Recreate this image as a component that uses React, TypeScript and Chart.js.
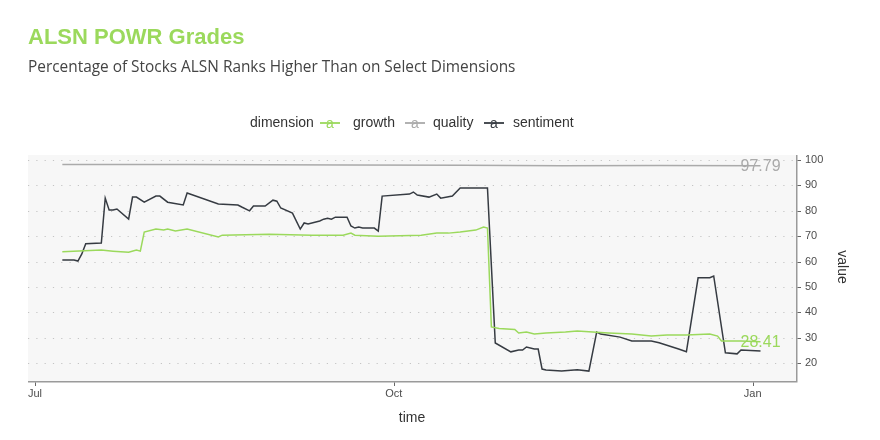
import React, { useEffect, useRef } from "react";
import { Chart, registerables } from "chart.js";

Chart.register(...registerables);

// ---------- data ----------
const xTickDates = ["2023-07-01", "2023-10-01", "2024-01-01"];
const xTickLabels = ["Jul", "Oct", "Jan"];
const yTickValues = [20, 30, 40, 50, 60, 70, 80, 90, 100];

const seriesNames = ["growth", "quality", "sentiment"];
const seriesColors = ["#9bd95c", "#aaaaaa", "#363b42"];

const growthDates = [
  "2023-07-08", "2023-07-18", "2023-07-21", "2023-07-25", "2023-07-27", "2023-07-28",
  "2023-07-29", "2023-08-01", "2023-08-03", "2023-08-04", "2023-08-06", "2023-08-09",
  "2023-08-17", "2023-08-18", "2023-08-30", "2023-09-10", "2023-09-18", "2023-09-20",
  "2023-09-21", "2023-09-27", "2023-10-08", "2023-10-12", "2023-10-15", "2023-10-18",
  "2023-10-22", "2023-10-24", "2023-10-25", "2023-10-26", "2023-10-28", "2023-11-01",
  "2023-11-02", "2023-11-04", "2023-11-06", "2023-11-09", "2023-11-14", "2023-11-17",
  "2023-11-21", "2023-11-25", "2023-12-01", "2023-12-06", "2023-12-10", "2023-12-15",
  "2023-12-21", "2023-12-23", "2023-12-24", "2023-12-29", "2024-01-03",
];
const growthValues = [
  63.9, 64.5, 64.1, 63.7, 64.5, 64.1,
  71.6, 72.8, 72.4, 72.8, 72.0, 72.8,
  69.7, 70.4, 70.8, 70.4, 70.4, 71.2,
  70.4, 70.0, 70.4, 71.2, 71.2, 71.6,
  72.4, 73.6, 73.2, 34.2, 33.6, 33.2,
  31.8, 32.2, 31.4, 31.8, 32.2, 32.6,
  32.2, 31.8, 31.4, 30.6, 31.0, 31.0,
  31.4, 30.6, 28.7, 28.7, 28.41,
];

const qualityDates = [
  "2023-07-08", "2023-08-10", "2023-09-19", "2023-10-19", "2023-11-13", "2023-12-08", "2024-01-03",
];
const qualityValues = [98.3, 98.3, 98.1, 98.0, 97.8, 97.9, 97.79];

const sentimentDates = [
  "2023-07-08", "2023-07-11", "2023-07-12", "2023-07-13", "2023-07-14", "2023-07-18",
  "2023-07-19", "2023-07-20", "2023-07-21", "2023-07-22", "2023-07-25", "2023-07-26",
  "2023-07-27", "2023-07-29", "2023-08-01", "2023-08-02", "2023-08-04", "2023-08-08",
  "2023-08-09", "2023-08-17", "2023-08-22", "2023-08-23", "2023-08-25", "2023-08-26",
  "2023-08-29", "2023-08-31", "2023-09-01", "2023-09-02", "2023-09-05", "2023-09-07",
  "2023-09-08", "2023-09-09", "2023-09-12", "2023-09-13", "2023-09-14", "2023-09-15",
  "2023-09-16", "2023-09-19", "2023-09-20", "2023-09-21", "2023-09-22", "2023-09-23",
  "2023-09-26", "2023-09-27", "2023-09-28", "2023-10-05", "2023-10-06", "2023-10-07",
  "2023-10-10", "2023-10-12", "2023-10-13", "2023-10-16", "2023-10-18", "2023-10-24",
  "2023-10-25", "2023-10-27", "2023-10-31", "2023-11-02", "2023-11-03", "2023-11-04",
  "2023-11-06", "2023-11-07", "2023-11-08", "2023-11-09", "2023-11-13", "2023-11-17",
  "2023-11-20", "2023-11-22", "2023-11-23", "2023-11-28", "2023-12-01", "2023-12-06",
  "2023-12-08", "2023-12-13", "2023-12-15", "2023-12-18", "2023-12-21", "2023-12-22",
  "2023-12-25", "2023-12-28", "2023-12-29", "2024-01-03",
];
const sentimentValues = [
  60.6, 60.6, 60.2, 63.0, 67.0, 67.3,
  85.0, 80.3, 80.3, 80.7, 76.7, 85.4,
  85.4, 83.4, 85.8, 85.8, 83.4, 82.3,
  87.0, 82.7, 82.3, 81.5, 80.0, 81.9,
  81.9, 84.2, 83.8, 81.1, 79.1, 72.8,
  75.2, 74.8, 76.0, 76.7, 77.1, 76.7,
  77.5, 77.5, 74.0, 73.2, 73.6, 73.2,
  73.2, 72.0, 85.8, 86.6, 87.4, 86.2,
  85.4, 86.6, 85.0, 85.8, 89.0, 89.0,
  89.0, 27.9, 24.4, 25.1, 25.1, 26.3,
  25.5, 25.5, 17.6, 17.2, 16.8, 17.3,
  16.8, 32.2, 31.4, 30.2, 28.7, 28.7,
  28.0, 25.5, 24.4, 53.6, 53.6, 54.3,
  24.0, 23.6, 25.1, 24.7,
];

const endLabelSeries = ["quality", "growth"];

// ---------- helpers ----------
const ORIGIN = Date.UTC(2023, 6, 1);
function dayIndex(s: string): number {
  const [y, m, d] = s.split("-").map(Number);
  return (Date.UTC(y, m - 1, d) - ORIGIN) / 86400000;
}
function toPoints(dates: string[], values: number[]) {
  return dates.map((d, i) => ({ x: dayIndex(d), y: values[i] }));
}

const FONT = "'Liberation Sans', Arial, sans-serif";

const decorPlugin = {
  id: "decor",
  beforeDraw(chart: any) {
    const { ctx, chartArea: a } = chart;
    ctx.save();
    ctx.fillStyle = "#f7f7f7";
    ctx.fillRect(a.left, a.top, a.right - a.left, a.bottom - a.top);
    ctx.restore();
  },
  beforeDatasetsDraw(chart: any) {
    const { ctx, chartArea: a, scales } = chart;
    const ys = scales.y;
    const xs = scales.x;
    ctx.save();
    // dotted gridlines
    ctx.strokeStyle = "#c4c4c4";
    ctx.lineWidth = 1;
    ctx.setLineDash([1.2, 7.1]);
    yTickValues.forEach((v) => {
      const py = Math.round(ys.getPixelForValue(v)) + 0.5;
      ctx.beginPath();
      ctx.moveTo(a.left, py);
      ctx.lineTo(a.right, py);
      ctx.stroke();
    });
    ctx.setLineDash([]);
    // axis borders
    ctx.strokeStyle = "#9a9a9a";
    ctx.lineWidth = 1.5;
    ctx.beginPath();
    ctx.moveTo(a.right + 0.75, a.top);
    ctx.lineTo(a.right + 0.75, a.bottom + 1.5);
    ctx.moveTo(a.left, a.bottom + 0.75);
    ctx.lineTo(a.right + 1.5, a.bottom + 0.75);
    ctx.stroke();
    // tick marks
    ctx.strokeStyle = "#666";
    ctx.lineWidth = 1;
    yTickValues.forEach((v) => {
      const py = Math.round(ys.getPixelForValue(v)) + 0.5;
      ctx.beginPath();
      ctx.moveTo(a.right + 1.5, py);
      ctx.lineTo(a.right + 5, py);
      ctx.stroke();
    });
    xTickDates.forEach((d) => {
      const px = Math.round(xs.getPixelForValue(dayIndex(d))) + 0.5;
      ctx.beginPath();
      ctx.moveTo(px, a.bottom + 1.5);
      ctx.lineTo(px, a.bottom + 5);
      ctx.stroke();
    });
    ctx.restore();
  },
  afterDatasetsDraw(chart: any) {
    const { ctx, scales } = chart;
    ctx.save();
    ctx.font = `16px ${FONT}`;
    ctx.textAlign = "center";
    ctx.textBaseline = "middle";
    endLabelSeries.forEach((name) => {
      const idx = seriesNames.indexOf(name);
      const ds = chart.data.datasets[idx];
      const last = ds.data[ds.data.length - 1];
      ctx.fillStyle = seriesColors[idx];
      ctx.fillText(
        String(last.y),
        scales.x.getPixelForValue(last.x),
        scales.y.getPixelForValue(last.y) + 1
      );
    });
    ctx.restore();
  },
  afterDraw(chart: any) {
    const { ctx } = chart;
    ctx.save();
    ctx.textBaseline = "alphabetic";
    ctx.textAlign = "left";
    ctx.fillStyle = "#9bd95c";
    ctx.font = `bold 22px ${FONT}`;
    ctx.fillText("ALSN POWR Grades", 28, 44);
    ctx.fillStyle = "#444";
    ctx.font = `15.4px 'Open Sans', ${FONT}`;
    ctx.textBaseline = "middle";
    ctx.fillText("Percentage of Stocks ALSN Ranks Higher Than on Select Dimensions", 28, 68);

    // legend
    ctx.font = `14px ${FONT}`;
    ctx.fillStyle = "#333";
    ctx.fillText("dimension", 250, 123);
    const keyX = [330, 415, 494];
    const textX = [353, 433, 513];
    seriesNames.forEach((n, i) => {
      ctx.strokeStyle = seriesColors[i];
      ctx.lineWidth = 1.8;
      ctx.beginPath();
      ctx.moveTo(keyX[i] - 10, 123);
      ctx.lineTo(keyX[i] + 10, 123);
      ctx.stroke();
      ctx.fillStyle = seriesColors[i];
      ctx.font = `14px ${FONT}`;
      ctx.textAlign = "center";
      ctx.fillText("a", keyX[i], 124);
      ctx.textAlign = "left";
      ctx.fillStyle = "#333";
      ctx.font = `14px ${FONT}`;
      ctx.fillText(n, textX[i], 123);
    });

    // axis titles
    ctx.textAlign = "center";
    ctx.fillStyle = "#333";
    ctx.font = `14px ${FONT}`;
    ctx.fillText("time", 412, 418);
    ctx.translate(842, 267);
    ctx.rotate(Math.PI / 2);
    ctx.fillText("value", 0, 0);
    ctx.restore();
  },
};

export default function App() {
  const ref = useRef<HTMLCanvasElement | null>(null);
  useEffect(() => {
    if (!ref.current) return;
    const allValues = [growthValues, qualityValues, sentimentValues];
    const allDates = [growthDates, qualityDates, sentimentDates];
    const chart = new Chart(ref.current, {
      type: "line",
      data: {
        datasets: seriesNames.map((n, i) => ({
          label: n,
          data: toPoints(allDates[i], allValues[i]),
          borderColor: seriesColors[i],
          backgroundColor: seriesColors[i],
          borderWidth: 1.5,
          pointRadius: 0,
          tension: 0,
          fill: false,
        })),
      },
      options: {
        animation: false,
        responsive: false,
        devicePixelRatio: 1,
        layout: { padding: { left: 28, top: 155, right: 0, bottom: 0 } },
        plugins: {
          legend: { display: false },
          tooltip: { enabled: false },
          title: { display: false },
        },
        scales: {
          x: {
            type: "linear",
            min: -1.8,
            max: 195.1,
            afterBuildTicks: (s: any) => {
              s.ticks = xTickDates.map((d) => ({ value: dayIndex(d) }));
            },
            afterFit: (s: any) => {
              s.height = 59;
            },
            ticks: {
              autoSkip: false,
              maxRotation: 0,
              padding: 2,
              color: "#4d4d4d",
              font: { family: FONT, size: 11 },
              callback: (v: any) => {
                const i = xTickDates.findIndex((d) => dayIndex(d) === v);
                return i >= 0 ? xTickLabels[i] : "";
              },
            },
            grid: { display: false, drawTicks: true, tickLength: 4 },
            border: { display: false },
          },
          y: {
            type: "linear",
            position: "right",
            min: 12.9,
            max: 102,
            afterBuildTicks: (s: any) => {
              s.ticks = yTickValues.map((v) => ({ value: v }));
            },
            afterFit: (s: any) => {
              s.width = 84;
            },
            ticks: {
              padding: 4,
              color: "#4d4d4d",
              font: { family: FONT, size: 11 },
            },
            grid: { display: false, drawTicks: true, tickLength: 5 },
            border: { display: false },
          },
        },
      },
      plugins: [decorPlugin],
    } as any);
    return () => chart.destroy();
  }, []);
  return (
    <div style={{ position: "fixed", left: 0, top: 0, width: 880, height: 440, background: "#fff" }}>
      <canvas ref={ref} width={880} height={440} style={{ width: 880, height: 440, display: "block" }} />
    </div>
  );
}
